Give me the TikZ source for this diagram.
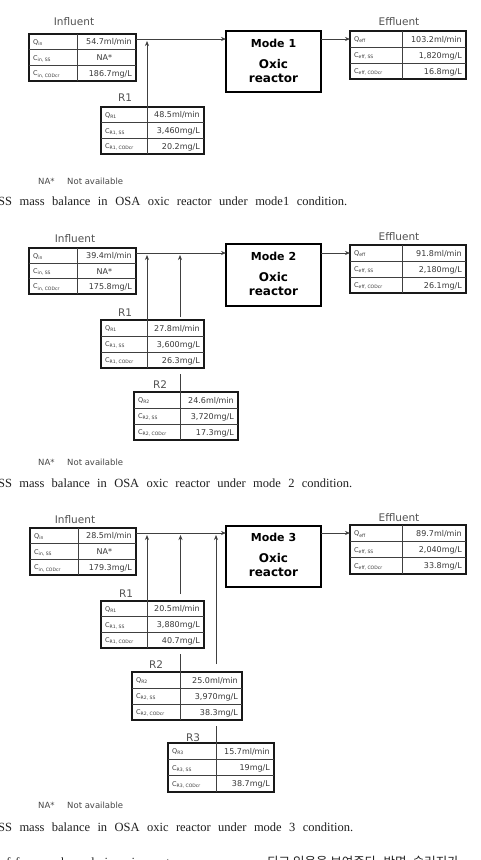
\documentclass[tikz,border=0pt]{standalone}
\usepackage{fontspec}
\setmainfont{Liberation Serif}
\newfontfamily\tabfont{DejaVu Sans}
\newfontfamily\krfont{Noto Sans CJK KR}
\usetikzlibrary{arrows.meta,calc,fit}
\tikzset{
 tbl/.style={draw=black!90, line width=1.3pt, inner sep=0pt, outer sep=0pt},
 innerline/.style={draw=black!75, line width=0.7pt},
 cell/.style={font=\tabfont\fontsize{8}{9}\selectfont, text=black!78, inner sep=0pt},
 lbl/.style={font=\tabfont\fontsize{6.5}{8}\selectfont, text=black!78, inner sep=0pt},
 ttl/.style={font=\tabfont\fontsize{10.5}{12}\selectfont, text=black!68, inner sep=0pt},
 reac/.style={draw=black, line width=1.3pt, inner sep=0pt, outer sep=0pt},
 modetxt/.style={font=\tabfont\bfseries\fontsize{11}{13}\selectfont, inner sep=0pt},
 oxtxt/.style={font=\tabfont\bfseries\fontsize{12}{14}\selectfont, inner sep=0pt},
 flow/.style={draw=black!75, line width=0.7pt},
 arr/.style={flow, -{Stealth[length=5pt,width=4pt]}},
 note/.style={font=\tabfont\fontsize{8.5}{10}\selectfont, text=black!72, inner sep=0pt, anchor=base west},
 captxt/.style={font=\fontsize{12.5}{14}\selectfont, text=black!88, inner sep=0pt, anchor=base west},
}
% name x1 y1 x2 y2 xsep
\newcommand\mytab[6]{%
 \coordinate (#1-nw) at (#2,#3);
 \coordinate (#1-se) at (#4,#5);
 \node[tbl, fit=(#1-nw)(#1-se)] (#1) {};
 \coordinate (#1-c) at (#6,#3);
 \coordinate (#1-cb) at (#6,#5);
 \draw[innerline] ($(#1.north west)!1/3!(#1.south west)$) -- ($(#1.north east)!1/3!(#1.south east)$);
 \draw[innerline] ($(#1.north west)!2/3!(#1.south west)$) -- ($(#1.north east)!2/3!(#1.south east)$);
 \draw[innerline] (#1-c) -- (#1-cb);
}
% name l1 v1 l2 v2 l3 v3
\newcommand\mycells[7]{%
 \node[lbl, anchor=base west] (#1-l1) at ($(#1.north west)!1/6!(#1.south west)+(4,2.5)$) {#2};
 \node[cell, anchor=base east] (#1-v1) at ($(#1.north east)!1/6!(#1.south east)+(-4,3)$) {#3};
 \node[lbl, anchor=base west] (#1-l2) at ($(#1.north west)!1/2!(#1.south west)+(4,2.5)$) {#4};
 \node[cell, anchor=base east] (#1-v2) at ($(#1.north east)!1/2!(#1.south east)+(-4,3)$) {#5};
 \node[lbl, anchor=base west] (#1-l3) at ($(#1.north west)!5/6!(#1.south west)+(4,2.5)$) {#6};
 \node[cell, anchor=base east] (#1-v3) at ($(#1.north east)!5/6!(#1.south east)+(-4,3)$) {#7};
}
\newcommand\incells[4]{\mycells{#1}{Q\textsubscript{in}}{#2}{C\textsubscript{in, SS}}{#3}{C\textsubscript{in, CODcr}}{#4}}
\newcommand\effcells[4]{\mycells{#1}{Q\textsubscript{eff}}{#2}{C\textsubscript{eff, SS}}{#3}{C\textsubscript{eff, CODcr}}{#4}}
\newcommand\rcells[5]{\mycells{#1}{Q\textsubscript{#2}}{#3}{C\textsubscript{#2, SS}}{#4}{C\textsubscript{#2, CODcr}}{#5}}
\newcommand\reactor[7]{% name x1 y1 x2 y2 modeY label
 \coordinate (#1-nw) at (#2,#3);
 \coordinate (#1-se) at (#4,#5);
 \node[reac, fit=(#1-nw)(#1-se)] (#1) {};
 \node[modetxt] (#1-m) at ($(#1.north)+(0,#6)$) {#7};
 \node[oxtxt] (#1-o) at ($(#1.north)+(0,#6+21)$) {Oxic};
 \node[oxtxt] (#1-r) at ($(#1.north)+(0,#6+35)$) {reactor};
}
\newcommand\NAbox{\makebox[55pt][c]{NA*}}
\begin{document}
\begin{tikzpicture}[x=1pt,y=-1pt]
\useasboundingbox (0,0) rectangle (481,860);
\clip (0,0) rectangle (481,860);
\fill[white] (0,0) rectangle (481,860);

%% ---------------- Panel 1 ----------------
\coordinate (ln1) at (0,39);
\mytab{in1}{29}{34}{136}{81}{77}
\incells{in1}{54.7ml/min}{\NAbox}{186.7mg/L}
\node[ttl] (tin1) at (74,22) {Influent};
\mytab{r11}{101}{107}{204}{154}{147}
\rcells{r11}{R1}{48.5ml/min}{3,460mg/L}{20.2mg/L}
\node[ttl] (tr11) at (125,98) {R1};
\reactor{re1}{226}{31}{321}{92}{12}{Mode 1}
\mytab{ef1}{350}{31}{466}{79}{402}
\effcells{ef1}{103.2ml/min}{1,820mg/L}{16.8mg/L}
\node[ttl] (tef1) at (399,22) {Effluent};
\draw[arr] (in1.east |- ln1) -- (re1.west |- ln1);
\draw[arr] (re1.east |- ln1) -- (ef1.west |- ln1);
\draw[arr, shorten >=2pt] (r11-c) -- (r11-c |- ln1);
\node[note] (na1) at (38,184) {NA*};
\node[note] (nt1) at (67,184) {Not available};
\node[captxt] (cap1) at (-2,205) {\makebox[349pt][s]{SS mass balance in OSA oxic reactor under mode1 condition.}};

%% ---------------- Panel 2 ----------------
\coordinate (ln2) at (0,253);
\mytab{in2}{29}{248}{136}{294}{77}
\incells{in2}{39.4ml/min}{\NAbox}{175.8mg/L}
\node[ttl] (tin2) at (75,239) {Influent};
\mytab{r12}{101}{320}{204}{368}{147}
\rcells{r12}{R1}{27.8ml/min}{3,600mg/L}{26.3mg/L}
\node[ttl] (tr12) at (125,313) {R1};
\mytab{r22}{134}{392}{238}{440}{180}
\rcells{r22}{R2}{24.6ml/min}{3,720mg/L}{17.3mg/L}
\node[ttl] (tr22) at (160,385) {R2};
\reactor{re2}{226}{244}{321}{306}{12}{Mode 2}
\mytab{ef2}{350}{245}{466}{293}{402}
\effcells{ef2}{91.8ml/min}{2,180mg/L}{26.1mg/L}
\node[ttl] (tef2) at (399,237) {Effluent};
\draw[arr] (in2.east |- ln2) -- (re2.west |- ln2);
\draw[arr] (re2.east |- ln2) -- (ef2.west |- ln2);
\draw[arr, shorten >=2pt] (r12-c) -- (r12-c |- ln2);
\draw[flow] (r22-c) -- ($(r12.south -| r22-c)+(0,6)$);
\draw[arr, shorten >=2pt] ($(r12.north -| r22-c)+(0,-3)$) -- (r22-c |- ln2);
\node[note] (na2) at (38,465) {NA*};
\node[note] (nt2) at (67,465) {Not available};
\node[captxt] (cap2) at (-2,487) {\makebox[354pt][s]{SS mass balance in OSA oxic reactor under mode 2 condition.}};

%% ---------------- Panel 3 ----------------
\coordinate (ln3) at (0,533);
\mytab{in3}{30}{528}{136}{575}{78}
\incells{in3}{28.5ml/min}{\NAbox}{179.3mg/L}
\node[ttl] (tin3) at (75,520) {Influent};
\mytab{r13}{101}{601}{204}{648}{147}
\rcells{r13}{R1}{20.5ml/min}{3,880mg/L}{40.7mg/L}
\node[ttl] (tr13) at (126,594) {R1};
\mytab{r23}{132}{672}{242}{720}{180.5}
\rcells{r23}{R2}{25.0ml/min}{3,970mg/L}{38.3mg/L}
\node[ttl] (tr23) at (156,665) {R2};
\mytab{r33}{168}{743}{274}{792}{216}
\rcells{r33}{R3}{15.7ml/min}{19mg/L}{38.7mg/L}
\node[ttl] (tr33) at (193,738) {R3};
\reactor{re3}{226}{526}{321}{587}{11}{Mode 3}
\mytab{ef3}{350}{525}{466}{574}{402}
\effcells{ef3}{89.7ml/min}{2,040mg/L}{33.8mg/L}
\node[ttl] (tef3) at (399,518) {Effluent};
\draw[arr] (in3.east |- ln3) -- (re3.west |- ln3);
\draw[arr] (re3.east |- ln3) -- (ef3.west |- ln3);
\draw[arr, shorten >=2pt] (r13-c) -- (r13-c |- ln3);
\draw[flow] (r23-c) -- ($(r13.south -| r23-c)+(0,6)$);
\draw[arr, shorten >=2pt] ($(r13.north -| r23-c)+(0,-7)$) -- (r23-c |- ln3);
\draw[flow] (r33-c) -- ($(r23.south -| r33-c)+(0,6)$);
\draw[arr, shorten >=2pt] ($(r23.north -| r33-c)+(0,-8)$) -- (r33-c |- ln3);
\node[note] (na3) at (38,808) {NA*};
\node[note] (nt3) at (67,808) {Not available};
\node[captxt] (cap3) at (-2,831) {\makebox[355pt][s]{SS mass balance in OSA oxic reactor under mode 3 condition.}};

%% cut-off line of running text at the bottom
\node[captxt] (bt1) at (0,866) {\makebox[180pt][s]{of from each mode in oxic reactor}};
\node[captxt] (bt2) at (267,866) {\krfont 되고 있음을 보여준다. 반면, 슬러지가};
\end{tikzpicture}
\end{document}
